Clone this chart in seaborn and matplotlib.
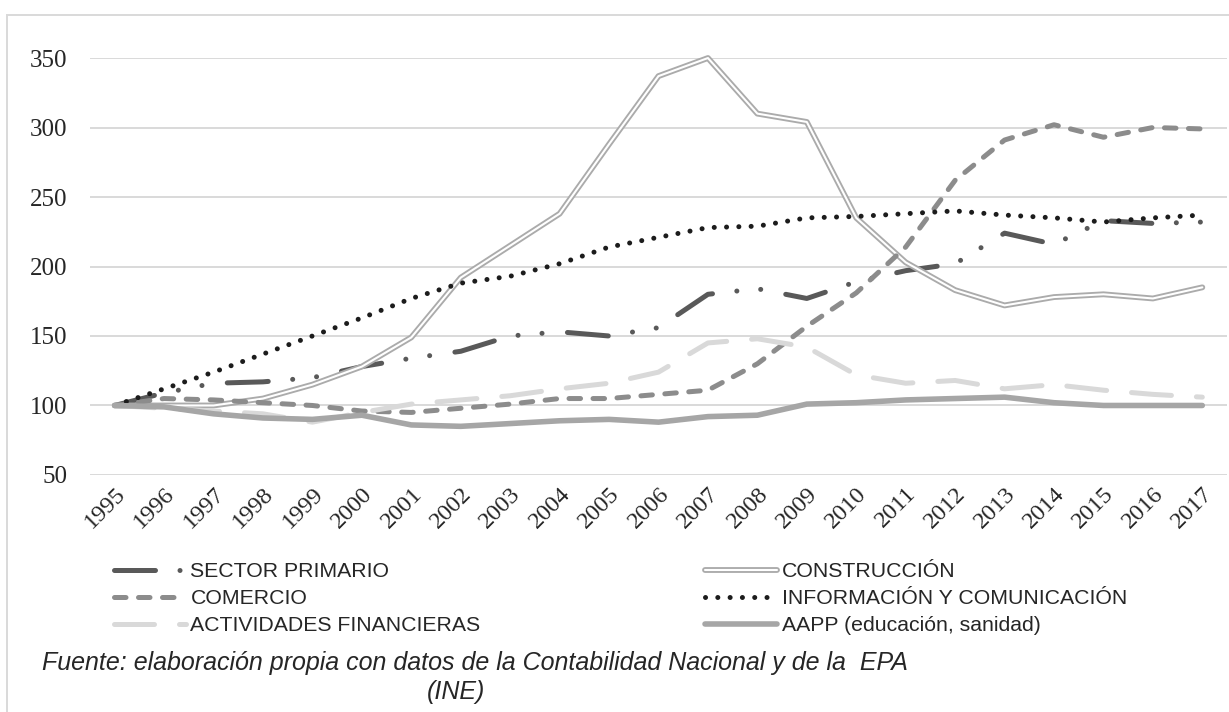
import numpy as np
import pandas as pd
import matplotlib as mpl
import matplotlib.pyplot as plt
import matplotlib.patheffects as pe
import seaborn as sns

sns.set_style("white")
mpl.rcParams['font.family'] = ['Liberation Sans', 'DejaVu Sans']

years = [str(y) for y in range(1995, 2018)]

sector_primario = [100, 109, 116, 117, 120, 128, 134, 139, 150, 153, 150, 156,
                   180, 184, 177, 189, 197, 202, 224, 216, 233, 231, 232]
construccion = [100, 100, 100, 105, 115, 128, 149, 192, 215, 238, 288, 337,
                350, 310, 304, 235, 203, 183, 172, 178, 180, 177, 185]
comercio = [100, 105, 104, 102, 100, 96, 95, 98, 101, 105, 105, 108,
            111, 130, 157, 181, 214, 262, 291, 302, 293, 300, 299]
informacion = [100, 112, 124, 137, 150, 163, 177, 188, 193, 202, 214, 221,
               228, 229, 235, 236, 238, 240, 237, 235, 232, 235, 237]
act_financieras = [100, 98, 96, 94, 88, 95, 101, 104, 107, 112, 116, 124,
                   145, 148, 142, 122, 116, 118, 112, 115, 111, 108, 106]
aapp = [100, 99, 94, 91, 90, 93, 86, 85, 87, 89, 90, 88,
        92, 93, 101, 102, 104, 105, 106, 102, 100, 100, 100]

labels = ["SECTOR PRIMARIO", "CONSTRUCCIÓN", "COMERCIO",
          "INFORMACIÓN Y COMUNICACIÓN", "ACTIVIDADES FINANCIERAS",
          "AAPP (educación, sanidad)"]

df = pd.DataFrame({"year": years,
                   labels[0]: sector_primario,
                   labels[1]: construccion,
                   labels[2]: comercio,
                   labels[3]: informacion,
                   labels[4]: act_financieras,
                   labels[5]: aapp})

styles = {
    labels[0]: dict(color="#595959", linewidth=3.6,
                    linestyle=(0, (8.2, 4.9, 0.01, 4.8, 0.01, 5.1))),
    labels[1]: dict(color="white", linewidth=1.5, linestyle="-",
                    path_effects=[pe.Stroke(linewidth=4.2, foreground="#ababab"), pe.Normal()]),
    labels[2]: dict(color="#8c8c8c", linewidth=3.6, linestyle=(0, (2.3, 2.5))),
    labels[3]: dict(color="#1c1c1c", linewidth=3.6, linestyle=(0, (0.01, 2.45))),
    labels[4]: dict(color="#d9d9d9", linewidth=3.6, linestyle=(0, (8.0, 5.0))),
    labels[5]: dict(color="#a6a6a6", linewidth=4.0, linestyle="-"),
}

fig = plt.figure(figsize=(12.29, 7.12), dpi=100)
ax = fig.add_axes([0.0732, 0.3329, 0.9252, 0.5856])

for name in labels:
    sns.lineplot(data=df, x="year", y=name, ax=ax, label=name, legend=False,
                 dash_capstyle="round", solid_capstyle="round",
                 solid_joinstyle="round", clip_on=False, **styles[name])

ax.set_xlim(-0.5, len(years) - 0.5)
ax.set_ylim(50, 350)
ax.set_yticks(range(50, 351, 50))
ax.set_xlabel("")
ax.set_ylabel("")
ax.grid(axis="y", color="#d9d9d9", linewidth=1.4)
ax.grid(axis="x", visible=False)
ax.set_axisbelow(True)
sns.despine(ax=ax, left=True, bottom=True)
ax.tick_params(axis="both", length=0)
ax.tick_params(axis="y", pad=16)
ax.tick_params(axis="x", pad=6)
for t in ax.get_yticklabels():
    t.set_fontfamily("Liberation Serif")
    t.set_fontsize(18)
for t in ax.get_xticklabels():
    t.set_fontfamily("Liberation Serif")
    t.set_fontsize(17.5)
    t.set_rotation(45)
    t.set_ha("right")
    t.set_va("top")
    t.set_rotation_mode("anchor")

lines = {l.get_label(): l for l in ax.get_lines()}
left = [labels[0], labels[2], labels[4]]
right = [labels[1], labels[3], labels[5]]
leg_kw = dict(loc="upper left", frameon=False, fontsize=15.3, handlelength=3.4,
              handletextpad=0.2, labelspacing=0.38, borderpad=0, borderaxespad=0)
fig.legend([lines[k] for k in left], left, bbox_to_anchor=(114 / 1229, 1 - 562 / 712), **leg_kw)
fig.legend([lines[k] for k in right], right, bbox_to_anchor=(705 / 1229, 1 - 562 / 712), **leg_kw)

fig.text(42 / 1229, 1 - 663 / 712,
         "Fuente: elaboración propia con datos de la Contabilidad Nacional y de la  EPA",
         fontsize=18, style="italic", va="center", ha="left")
fig.text(456 / 1229, 1 - 692 / 712, "(INE)", fontsize=18, style="italic",
         va="center", ha="center")

border = plt.Rectangle((7 / 1229, -0.2), 1.2, 0.2 + 1 - 15 / 712, transform=fig.transFigure,
                       fill=False, edgecolor="#d9d9d9", linewidth=1.4)
fig.patches.append(border)

fig.savefig("out.png", dpi=100)
